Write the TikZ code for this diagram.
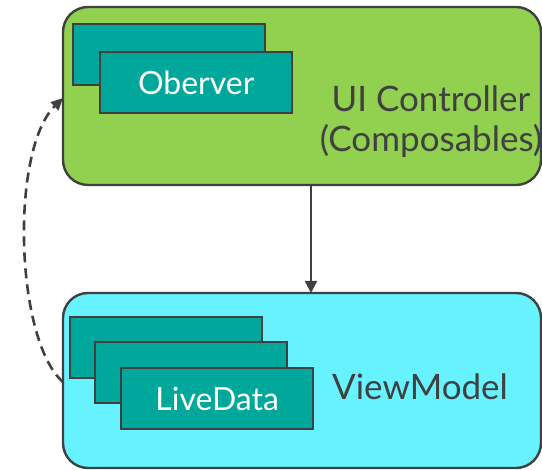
\documentclass[tikz,border=0pt]{standalone}
\usepackage{fontspec}
\setmainfont{Lato}
\usetikzlibrary{arrows.meta}
\definecolor{ucgreen}{HTML}{92D050}
\definecolor{vmblue}{HTML}{66F2FF}
\definecolor{tealbox}{HTML}{00A89C}
\definecolor{edge}{HTML}{404040}
\tikzset{
  layer/.style={draw=edge, line width=2.4pt, rounded corners=25pt},
  card/.style={draw=edge, line width=2.4pt, fill=tealbox, minimum width=192pt, minimum height=61pt, inner sep=0pt, anchor=north west, text=white, font=\fontsize{32}{36}\selectfont},
  lbl/.style={text=edge, align=center, inner sep=0pt, font=\fontsize{35}{40}\selectfont},
}
\begin{document}
\begin{tikzpicture}[x=1pt,y=-1pt]
\useasboundingbox (0,0) rectangle (542,470);
\begin{scope}
\clip (0,0) rectangle (542,470);
\draw[layer, fill=ucgreen] (63,7) rectangle (541,185);
\draw[layer, fill=vmblue] (63,293) rectangle (541,468);
\end{scope}
\coordinate (ucL) at (63,98);
\coordinate (ucB) at (311,185);
\coordinate (vmT) at (311,293);
\coordinate (vmL) at (63,382);
\node[card] (ob1) at (72,23) {};
\node[card] (ob2) at (99,51) {Oberver};
\node[card] (ld1) at (69,316) {};
\node[card] (ld2) at (94,341) {};
\node[card] (ld3) at (120,367) {LiveData};
\node[lbl] (uc) at (431,122) {UI Controller\\(Composables)};
\node[lbl] (vm) at (420,387) {ViewModel};
\draw[edge, line width=2.4pt, -{Triangle[length=12pt,width=12pt]}] (ucB) -- (vmT);
\draw[edge, line width=2.6pt, dash pattern=on 10pt off 6pt, -{Triangle[length=12pt,width=11pt]}]
  (vmL) .. controls (15,340) and (10,150) .. (ucL);
\end{tikzpicture}
\end{document}
